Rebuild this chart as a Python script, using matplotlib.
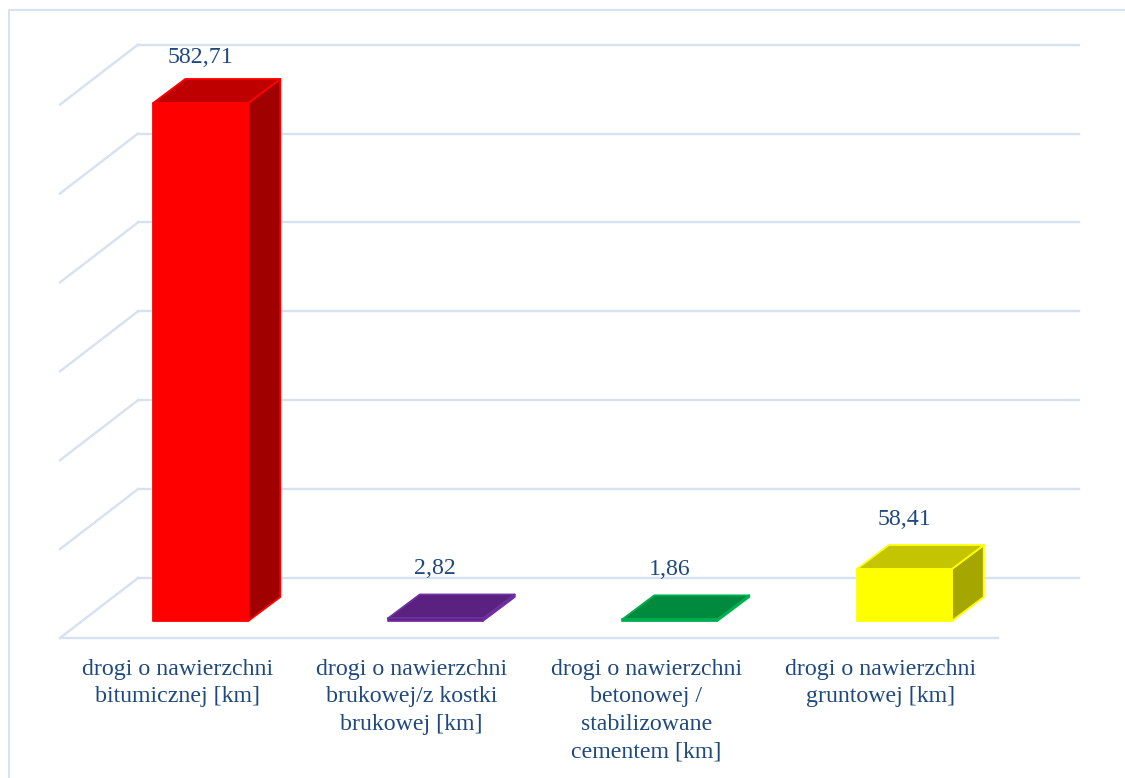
import matplotlib
matplotlib.use("Agg")
import matplotlib.pyplot as plt
from matplotlib.patches import Polygon

plt.rcParams['font.family'] = ['Liberation Serif', 'DejaVu Serif']

categories = ["drogi o nawierzchni\nbitumicznej [km]",
              "drogi o nawierzchni\nbrukowej/z kostki\nbrukowej [km]",
              "drogi o nawierzchni\nbetonowej /\nstabilizowane\ncementem [km]",
              "drogi o nawierzchni\ngruntowej [km]"]
values = [582.71, 2.82, 1.86, 58.41]
labels = ["582,71", "2,82", "1,86", "58,41"]
front_colors = ["#FF0000", "#5A2180", "#008A3E", "#FFFF00"]
top_colors = ["#BF0000", "#5A2180", "#008A3E", "#C4C400"]
side_colors = ["#A00000", "#4A1A6C", "#007030", "#A6A600"]
edge_colors = ["#FF0000", "#7030A0", "#00B050", "#FFFF00"]
grid_values = [0, 100, 200, 300, 400, 500, 600]

W, H = 1125, 778
fig = plt.figure(figsize=(W / 100, H / 100), dpi=100)
fig.patch.set_facecolor("white")
FRAME = "#D6E3F3"
fig.add_artist(plt.Line2D([8.5 / W, 8.5 / W, 1], [0, 1 - 9.5 / H, 1 - 9.5 / H],
                          transform=fig.transFigure, color=FRAME, lw=1.5))

L, R, B, T = 60, 998, 638, 30
ax = fig.add_axes([L / W, 1 - B / H, (R - L) / W, (B - T) / H])
PX_Y = 0.889
ax.set_xlim(0, 4)
ax.set_ylim(0, (B - T) / PX_Y)
ax.axis("off")
dx = 4 / (R - L)   # data units per px on x
dy = 1 / PX_Y      # data units per px on y

GRID = "#D6E1F1"
for v in grid_values:
    back = [v + 60 * dy] * 2
    ax.plot([78 * dx, (1079 - L) * dx], back, color=GRID, lw=1.7, clip_on=False, zorder=1)
    ax.plot([0, 78 * dx], [v, v + 60 * dy], color=GRID, lw=1.7, clip_on=False, zorder=1)
ax.plot([0, 4], [0, 0], color=GRID, lw=1.7, clip_on=False, zorder=1)

centers = [0.5 + i for i in range(4)]
bar_w = 95 * dx
ox, oy = 23.5 * dx, 17 * dy    # bar's front face sits into the floor
sx, sy = 32 * dx, 24 * dy      # bar depth
label_ceiling = (B - T) * dy - 38 * dy   # labels stay inside the plot area
for c, v, lab, f, t, s, e in zip(centers, values, labels, front_colors, top_colors, side_colors, edge_colors):
    x0 = c - bar_w / 2 + ox
    x1 = x0 + bar_w
    y0, y1 = oy, oy + v
    kw = dict(ec=e, lw=1.3, joinstyle="round", zorder=3, clip_on=False)
    ax.add_patch(Polygon([(x1, y0), (x1 + sx, y0 + sy), (x1 + sx, y1 + sy), (x1, y1)], fc=s, **kw))
    ax.add_patch(Polygon([(x0, y1), (x1, y1), (x1 + sx, y1 + sy), (x0 + sx, y1 + sy)], fc=t, **kw))
    ax.add_patch(Polygon([(x0, y0), (x1, y0), (x1, y1), (x0, y1)], fc=f, **kw))
    ax.text((x0 + x1) / 2, min(y1 + sy + 15.5 * dy, label_ceiling), lab, ha="center", va="bottom",
            fontsize=17.2, color="#1F497D", zorder=4)

for c, name in zip(centers, categories):
    ax.text(c, -21 * dy, name, ha="center", va="top", fontsize=17.2, color="#1F497D",
            linespacing=1.4, clip_on=False)

fig.savefig("out.png", dpi=100)
